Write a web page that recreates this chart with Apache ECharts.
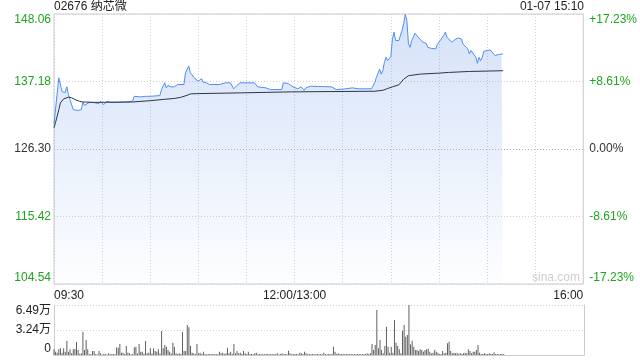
<!DOCTYPE html>
<html>
<head>
<meta charset="utf-8">
<script src="https://cdn.jsdelivr.net/npm/echarts@6/dist/echarts.min.js"></script>
<style>
html,body{margin:0;padding:0;background:#fff;}
#c{width:640px;height:360px;}
</style>
</head>
<body>
<div id="c"></div>
<script>
// ---- data ----
const stockTitle = '02676 纳芯微';
const stampText = '01-07 15:10';
const preClose = 126.30;
const priceTickLabels = ['104.54', '115.42', '126.30', '137.18', '148.06'];
const pctTickLabels = ['-17.23%', '-8.61%', '0.00%', '+8.61%', '+17.23%'];
const volTickLabels = ['0', '3.24万', '6.49万'];
const timeTickLabels = { 0: '09:30', 150: '12:00/13:00', 330: '16:00' };

// minutes since 09:30 (lunch break removed) and price
const priceMinutes = [0,3,5,7,8,9,10,12,13,15,17,18,19,20,22,25,28,29,31,33,35,40,45,49,50,54,57,58,60,66,67,69,70,71,73,75,77,81,82,84,85,88,90,92,93,95,97,103,107,110,112,114,116,125,127,132,135,142,143,146,149,152,154,156,157,160,165,173,176,182,186,190,198,200,201,203,204,205,206,207,208,209,210,211,212,213,214,215,216,217,218,219,220,221,222,223,224,225,226,228,229,230,232,233,234,235,236,238,239,241,243,244,245,246,248,249,250,252,254,255,258,259,260,261,263,264,265,266,267,268,270,272,273,275,276,277,279,280];
const prices = [130.36,137.78,135.56,135.39,136.32,135.07,134.26,132.63,132.52,132.52,132.63,133.82,133.33,133.28,133.82,133.77,133.61,133.98,133.45,133.98,133.82,133.82,133.88,133.98,134.79,134.70,134.79,134.53,134.79,134.91,135.88,136.97,136.16,136.53,136.32,136.32,136.69,136.69,138.59,139.67,138.59,137.62,137.23,137.62,137.07,136.97,136.69,136.69,136.97,136.97,136.00,136.53,136.97,136.97,136.32,136.16,135.88,135.88,136.97,136.86,136.32,136.00,136.32,135.77,136.16,136.42,136.37,136.32,135.88,136.00,136.16,136.00,136.00,137.02,137.83,139.18,138.37,138.92,140.27,141.08,140.54,140.54,141.19,144.05,145.14,143.79,143.51,143.79,143.63,145.41,146.49,148.00,147.04,143.24,142.70,143.79,144.33,144.97,144.86,144.05,144.05,143.51,143.35,142.70,142.98,142.54,142.54,142.43,143.14,143.89,144.60,145.14,144.33,144.60,143.51,143.79,143.95,144.21,144.05,143.24,142.43,141.61,142.17,141.89,141.08,140.10,141.08,140.54,141.08,142.05,142.17,142.26,142.43,141.35,141.19,141.52,141.61,141.61];

const avgMinutes = [0,1,3,4,6,9,11,13,16,18,25,49,60,69,75,79,83,85,90,117,148,200,205,208,211,215,218,221,228,240,246,259,280];
const avgPrices = [129.71,130.60,132.63,133.72,134.37,134.66,134.56,134.28,133.98,133.88,133.82,133.88,134.09,134.31,134.45,134.62,134.96,135.18,135.23,135.35,135.51,135.61,135.77,136.04,136.32,136.64,137.55,138.11,138.37,138.53,138.64,138.80,138.92];

// per-minute volume, minutes 0..280
const volumes = [
7400,4300,3000,7400,8700,3000,8700,4300,18200,4300,
7400,2200,7400,7800,16900,6500,1500,2200,30300,6500,
19500,7400,1300,1000,5200,5200,1300,800,5200,2200,
800,1300,1300,800,2200,900,1300,1300,1000,10000,
9500,14300,3000,3000,1300,11700,3000,2200,1000,1300,
10000,10800,2000,14300,4300,4300,1500,18200,2200,3000,
8700,2000,8700,5200,4300,7400,2000,31200,8700,13000,
10800,6500,4300,2000,16000,10800,2200,1300,2200,1300,
29900,5200,5200,39000,36000,11700,3000,2200,1300,14300,
2200,3000,1300,4300,1300,1000,1300,1300,1000,1300,
1000,1300,1000,4300,2200,3000,1300,2200,9500,2200,
4300,1300,14300,2200,5200,2200,3000,1300,5200,2200,
1300,4300,1300,1300,1000,2200,3000,1000,1300,1000,
1300,1000,1300,1300,1000,1300,1000,1300,1000,2200,
1000,1300,2200,1000,1300,1000,5600,2200,1000,1300,
1300,1300,1000,3000,2200,1300,4300,2200,1300,1300,
1000,1300,1000,1300,1300,1000,1300,1000,3000,1300,
1000,1300,1000,1300,10800,4300,1300,2200,1300,1000,
1300,1000,1300,1300,1000,1300,1000,1300,1000,1300,
1300,1000,1300,1000,1300,2200,1300,2200,14300,6500,
13000,58400,8700,19500,6500,2200,11700,36700,10800,3000,
10800,3000,45400,16000,11700,7400,2200,31500,38900,23800,
26000,64900,13900,18600,10800,6500,6500,5200,7400,6500,
4300,6500,7400,8200,4300,2000,3000,6500,4300,3000,
1300,1300,5200,2200,3000,15200,17300,5200,2200,3000,
2200,3000,1500,2200,1300,2200,3000,2200,7400,5200,
2200,4300,4300,6500,13000,3000,1300,1300,2200,1300,
1300,2200,1300,1300,3500,1300,1300,1000,1300,1300,1300
];

// ---- chart ----
const PCT_MAX = 17.23, PCT_STEP = 8.615, VOL_MAX = 64900, VOL_STEP = 32450;
const FONT = '"Liberation Sans", Arial, "Noto Sans CJK SC", sans-serif';
const GREEN = '#1ea51e', RED = '#f52a2a', DARK = '#333';
const toPct = p => (p / preClose - 1) * 100;
const tickIdx = v => Math.round((v + PCT_MAX) / PCT_STEP);
const tickColor = v => { const i = tickIdx(v); return i < 2 ? RED : (i === 2 ? DARK : GREEN); };

const priceData = priceMinutes.map((m, i) => [m, toPct(prices[i])]);
const avgData = avgMinutes.map((m, i) => [m, toPct(avgPrices[i])]);
const volData = volumes.map((v, i) => [i, v]);

const chart = echarts.init(document.getElementById('c'), null, { renderer: 'canvas' });
chart.setOption({
  animation: false,
  textStyle: { fontFamily: FONT },
  title: [
    { text: stockTitle, left: 54, top: 1, padding: 0,
      textStyle: { fontSize: 12, fontWeight: 'normal', color: '#222', fontFamily: FONT } },
    { text: stampText, right: 56, top: 1, padding: 0,
      textStyle: { fontSize: 12, fontWeight: 'normal', color: '#222', fontFamily: FONT } }
  ],
  graphic: [
    { type: 'text', left: 532, top: 272, silent: true,
      style: { text: 'sina.com', fill: '#cfcfcf', font: '12px ' + FONT } }
  ],
  grid: [
    { left: 54, top: 14, width: 530, height: 270, show: true, borderColor: '#cccccc', borderWidth: 1, backgroundColor: 'transparent' },
    { left: 54, top: 305, width: 530, height: 50, show: false }
  ],
  xAxis: [
    { type: 'value', gridIndex: 0, min: 0, max: 330, interval: 30,
      axisLine: { show: false }, axisTick: { show: false },
      splitLine: { show: true, lineStyle: { color: '#d0d0d0', type: [1, 2] } },
      axisLabel: { show: true, margin: 6, fontSize: 12, color: '#222', fontFamily: FONT,
        alignMinLabel: 'left', alignMaxLabel: 'right', showMinLabel: true, showMaxLabel: true,
        formatter: v => (timeTickLabels[v] !== undefined ? timeTickLabels[v] : '') } },
    { type: 'value', gridIndex: 1, min: 0, max: 330, interval: 30,
      axisLine: { show: true, onZero: false, lineStyle: { color: '#cccccc' } },
      axisTick: { show: false }, axisLabel: { show: false }, splitLine: { show: false } }
  ],
  yAxis: [
    { type: 'value', gridIndex: 0, position: 'left', min: -PCT_MAX, max: PCT_MAX, interval: PCT_STEP,
      axisLine: { show: false }, axisTick: { show: false },
      splitLine: { show: true, lineStyle: { color: '#d0d0d0', type: [1, 2] } },
      axisLabel: { margin: 3, fontSize: 12, fontFamily: FONT,
        verticalAlignMinLabel: 'bottom', verticalAlignMaxLabel: 'top',
        color: v => tickColor(v),
        formatter: v => priceTickLabels[tickIdx(v)] } },
    { type: 'value', gridIndex: 0, position: 'right', min: -PCT_MAX, max: PCT_MAX, interval: PCT_STEP,
      axisLine: { show: false }, axisTick: { show: false }, splitLine: { show: false },
      axisLabel: { margin: 6, fontSize: 12, fontFamily: FONT,
        verticalAlignMinLabel: 'bottom', verticalAlignMaxLabel: 'top',
        color: v => tickColor(v),
        formatter: v => pctTickLabels[tickIdx(v)] } },
    { type: 'value', gridIndex: 1, position: 'left', min: 0, max: VOL_MAX, interval: VOL_STEP,
      axisLine: { show: true, lineStyle: { color: '#cccccc' } }, axisTick: { show: false },
      splitLine: { show: true, lineStyle: { color: '#d0d0d0', type: [1, 2] } },
      axisLabel: { margin: 3, fontSize: 12, color: '#222', fontFamily: FONT,
        verticalAlignMinLabel: 'bottom', verticalAlignMaxLabel: 'top',
        formatter: v => volTickLabels[Math.round(v / VOL_STEP)] } },
    { type: 'value', gridIndex: 1, position: 'right', min: 0, max: VOL_MAX, interval: VOL_STEP,
      axisLine: { show: true, lineStyle: { color: '#cccccc' } }, axisTick: { show: false },
      splitLine: { show: false }, axisLabel: { show: false } }
  ],
  series: [
    { name: 'price', type: 'line', xAxisIndex: 0, yAxisIndex: 0, data: priceData,
      showSymbol: false, symbol: 'none', smooth: false,
      lineStyle: { color: '#4f8ef2', width: 1 },
      areaStyle: { origin: 'start',
        color: { type: 'linear', x: 0, y: 0, x2: 0, y2: 1,
          colorStops: [{ offset: 0, color: 'rgba(110,155,235,0.42)' }, { offset: 1, color: 'rgba(110,155,235,0.02)' }] } },
      markLine: { silent: true, symbol: 'none', label: { show: false },
        lineStyle: { color: '#b0b0b0', type: [1, 2], width: 1 },
        data: [{ yAxis: 0 }] },
      z: 3 },
    { name: 'avg', type: 'line', xAxisIndex: 0, yAxisIndex: 0, data: avgData,
      showSymbol: false, symbol: 'none',
      lineStyle: { color: '#2e3444', width: 1 }, z: 4 },
    { name: 'volume', type: 'bar', xAxisIndex: 1, yAxisIndex: 2, data: volData,
      barWidth: 1, itemStyle: { color: '#606060' } }
  ]
});
</script>
</body>
</html>
